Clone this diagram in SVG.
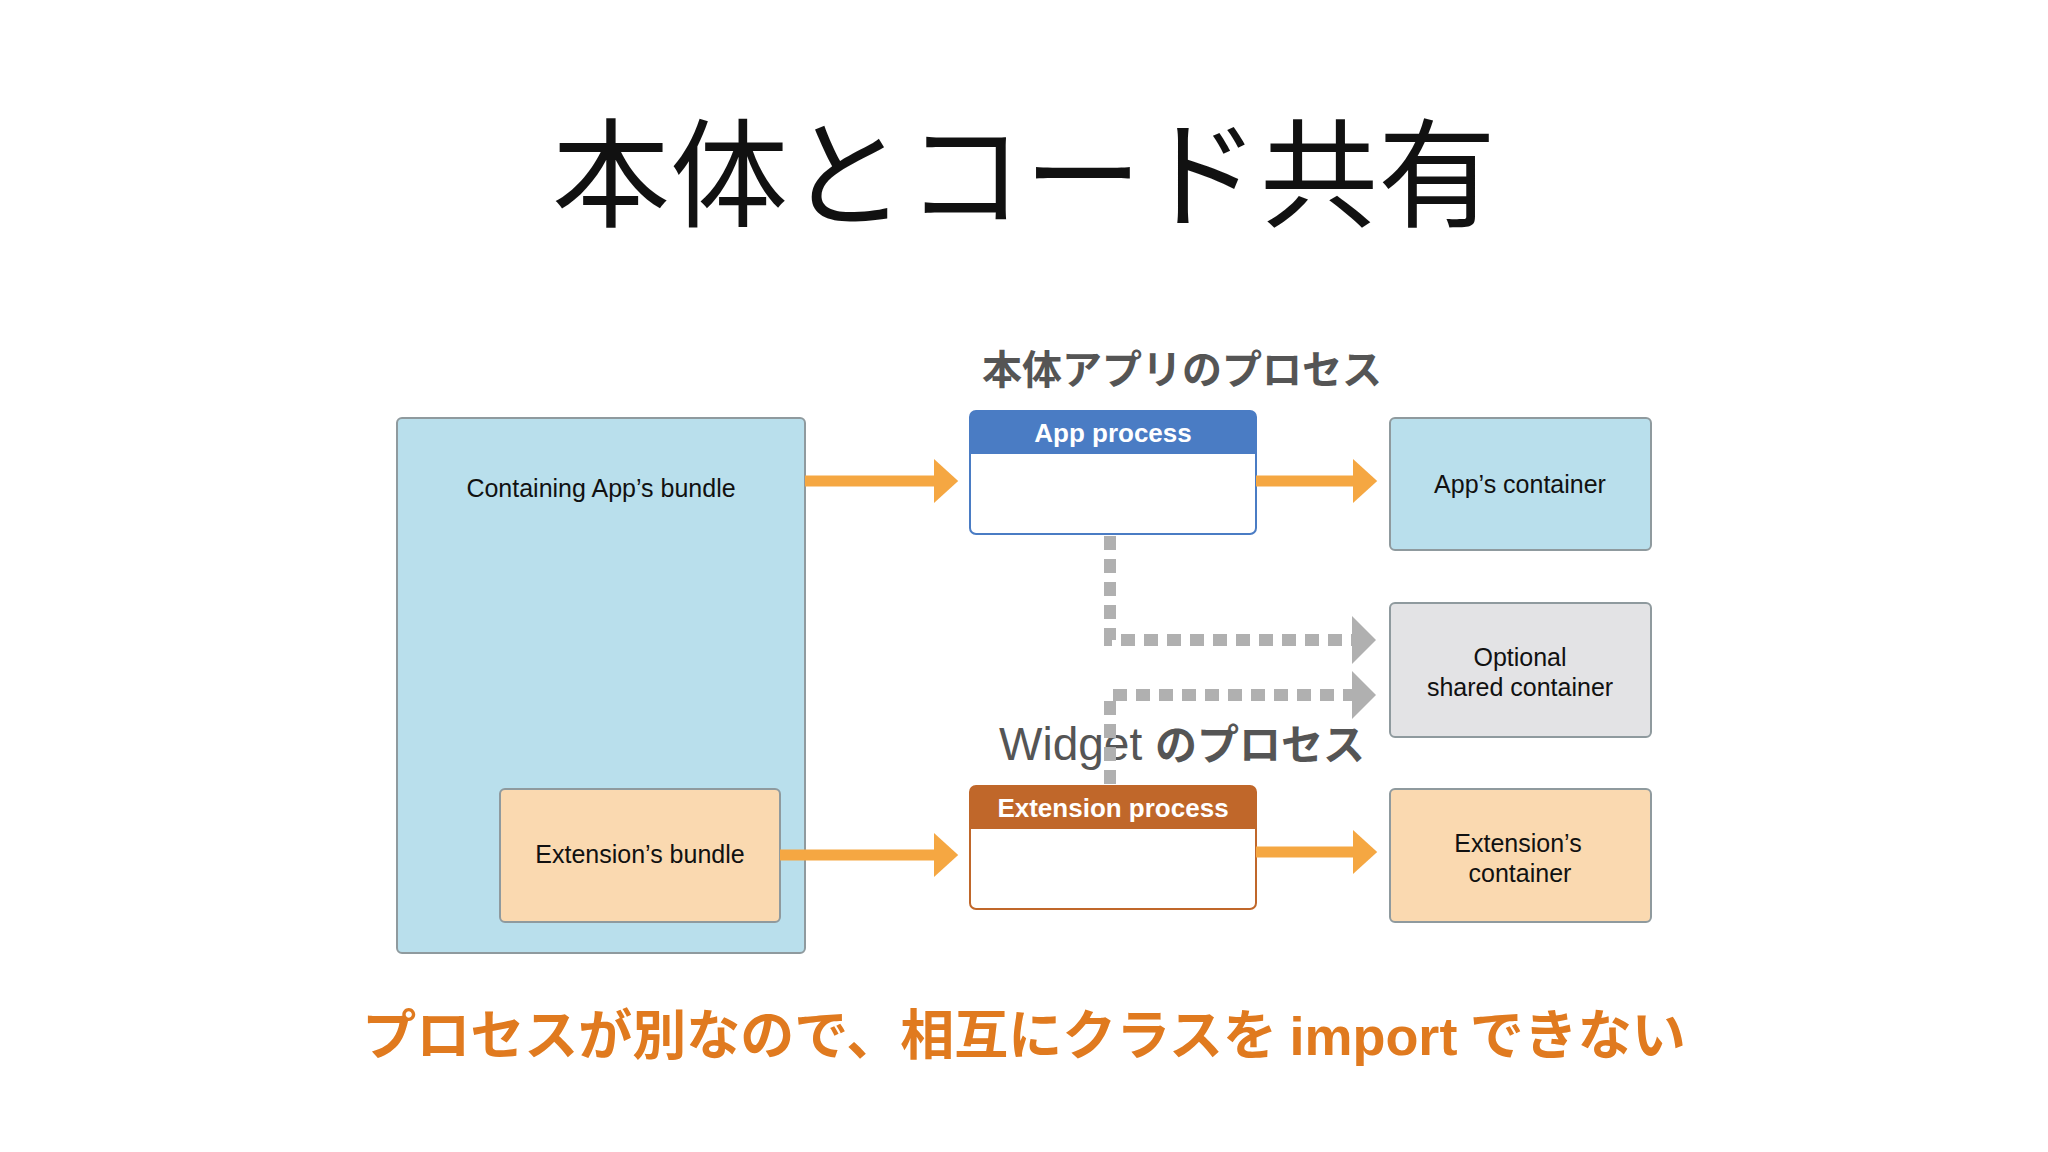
<svg xmlns="http://www.w3.org/2000/svg" width="2048" height="1152" viewBox="0 0 2048 1152">
<style>
.t{font-family:"Liberation Sans","Noto Sans CJK JP",sans-serif}
.j{font-family:"Noto Sans CJK JP",sans-serif}
.box{stroke:#8f9a9e;stroke-width:2}
.lbl{font-size:25px;fill:#111;text-anchor:middle}
.hd{font-size:26px;fill:#fff;font-weight:bold;text-anchor:middle}
.or{stroke:#f5a742;stroke-width:11;fill:none}
.ds{stroke:#b0b0b0;stroke-width:12;fill:none;stroke-dasharray:14 9}
</style>
<defs>
<marker id="ao" markerWidth="4" markerHeight="4" refX="1" refY="2" orient="auto"><path d="M0,0 L2.2,2 L0,4z" fill="#f5a742"/></marker>
<marker id="ag" markerWidth="4" markerHeight="4" refX="1" refY="2" orient="auto"><path d="M0,0 L2,2 L0,4z" fill="#b0b0b0"/></marker>
</defs>
<rect width="2048" height="1152" fill="#fff"/>
<text class="j" x="1024" y="218" font-size="118" text-anchor="middle" fill="#111">本体とコード共有</text>
<g id="containing-bundle"><rect class="box" x="397" y="418" width="408" height="535" rx="5" fill="#b9dfec"/><text class="t lbl" x="601" y="497">Containing App’s bundle</text></g>
<g id="extension-bundle"><rect class="box" x="500" y="789" width="280" height="133" rx="5" fill="#fad9b0"/><text class="t lbl" x="640" y="863">Extension’s bundle</text></g>
<g id="app-process-label"><text class="j" x="1182" y="384" font-size="40" font-weight="bold" fill="#555" text-anchor="middle">本体アプリのプロセス</text></g>
<g id="app-process"><rect x="970" y="411" width="286" height="123" rx="6" fill="#fff" stroke="#4a7cc4" stroke-width="2"/><path d="M976,411 h274 a6,6 0 0 1 6,6 v37 h-286 v-37 a6,6 0 0 1 6,-6z" fill="#4a7cc4"/><text class="t hd" x="1113" y="442">App process</text></g>
<g id="apps-container"><rect class="box" x="1390" y="418" width="261" height="132" rx="5" fill="#b9dfec"/><text class="t lbl" x="1520" y="493">App’s container</text></g>
<g id="shared-container"><rect class="box" x="1390" y="603" width="261" height="134" rx="5" fill="#e3e3e5"/><text class="t lbl" x="1520" y="666">Optional</text><text class="t lbl" x="1520" y="696">shared container</text></g>
<g id="widget-label"><text class="t" x="1182" y="760" font-size="46" fill="#555" text-anchor="middle">Widget <tspan class="j" font-weight="bold" font-size="42">のプロセス</tspan></text></g>
<g id="extension-process"><rect x="970" y="786" width="286" height="123" rx="6" fill="#fff" stroke="#c0672a" stroke-width="2"/><path d="M976,786 h274 a6,6 0 0 1 6,6 v37 h-286 v-37 a6,6 0 0 1 6,-6z" fill="#c0672a"/><text class="t hd" x="1113" y="817">Extension process</text></g>
<g id="extension-container"><rect class="box" x="1390" y="789" width="261" height="133" rx="5" fill="#fad9b0"/><text class="t lbl" x="1518" y="852">Extension’s</text><text class="t lbl" x="1520" y="882">container</text></g>
<g id="connectors">
<path class="or" d="M805,481 H945" marker-end="url(#ao)"/>
<path class="or" d="M1256,481 H1364" marker-end="url(#ao)"/>
<path class="or" d="M780,855 H945" marker-end="url(#ao)"/>
<path class="or" d="M1256,852 H1364" marker-end="url(#ao)"/>
<path class="ds" d="M1110,536 V640 H1364" marker-end="url(#ag)"/>
<path class="ds" d="M1110,784 V695 H1364" marker-end="url(#ag)"/>
</g>
<text class="j" x="1024" y="1055" font-size="54" font-weight="bold" fill="#e07a1f" text-anchor="middle">プロセスが別なので、相互にクラスを <tspan class="t">import</tspan> できない</text>
</svg>
